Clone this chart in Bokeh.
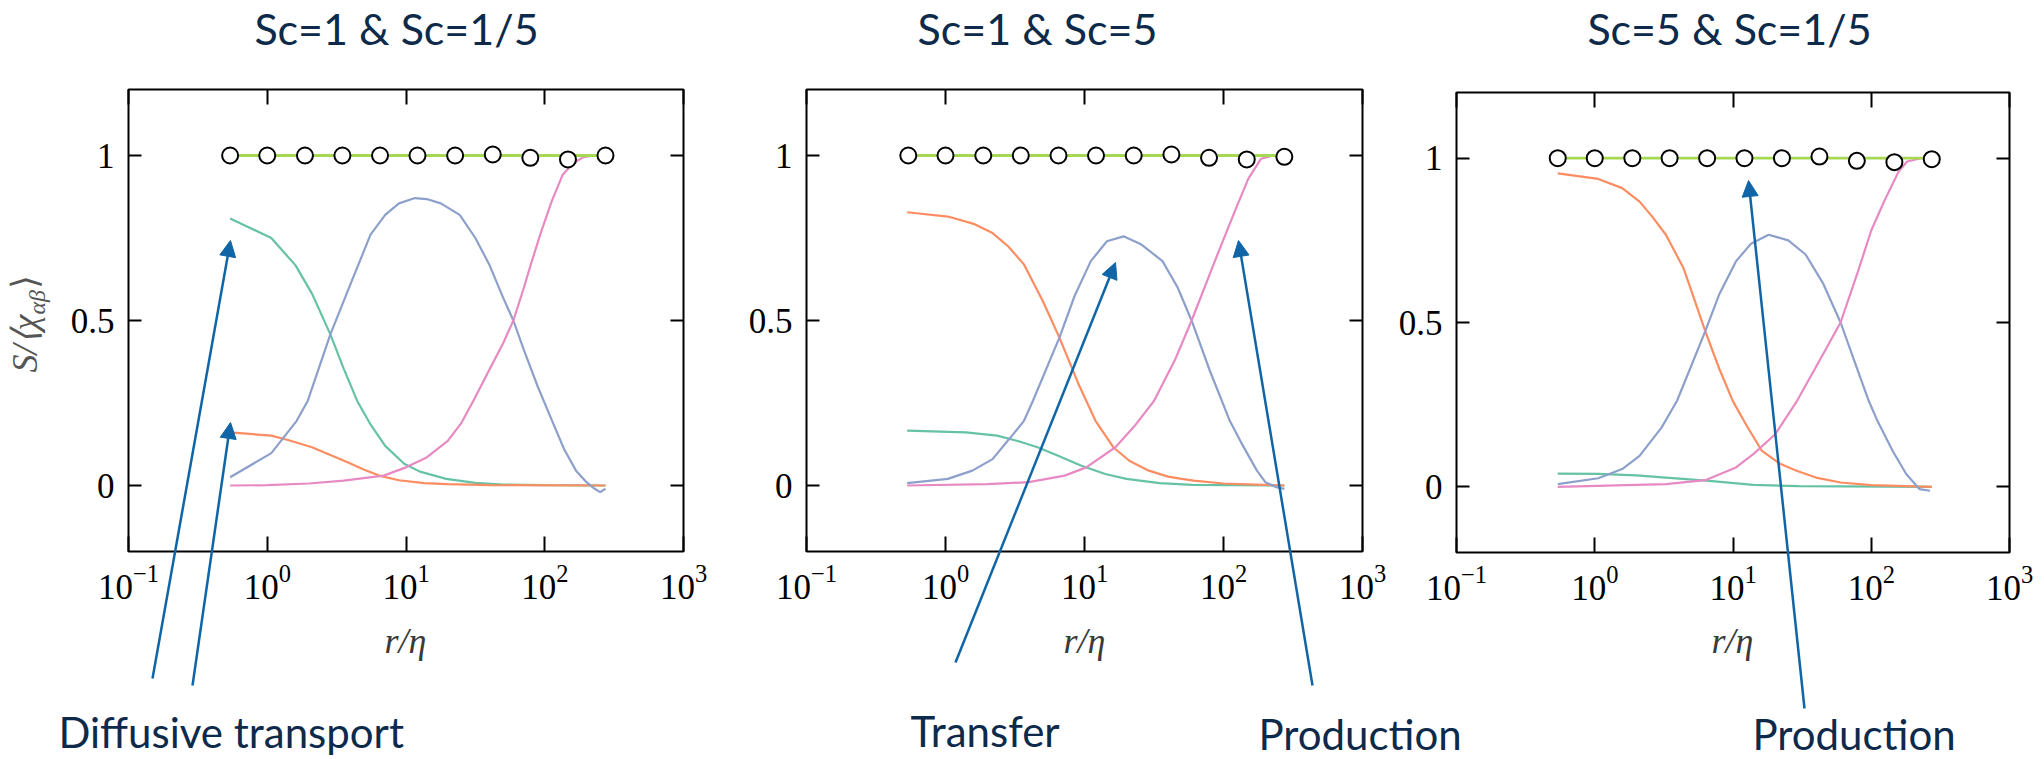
import math
from bokeh.plotting import figure
from bokeh.models import (FixedTicker, LogAxis, LinearAxis, Label, Arrow, NormalHead,
                          CustomJSTickFormatter, NumeralTickFormatter, Range1d)
from bokeh.layouts import row
from bokeh.embed import file_html
from bokeh.resources import INLINE

# ---------------- data ----------------
titles = ["Sc=1 & Sc=1/5", "Sc=1 & Sc=5", "Sc=5 & Sc=1/5"]
x_ticks = [0.1, 1, 10, 100, 1000]
y_ticks = [0, 0.5, 1]

r_markers = [0.54, 1.0, 1.87, 3.48, 6.5, 12.1, 22.6, 42.2, 78.7, 147, 274]
sum_p1 = [1.0, 1.0, 1.0, 1.0, 1.0, 1.0, 1.0, 1.003, 0.993, 0.988, 1.0]
sum_p2 = [1.0, 1.0, 1.0, 1.0, 1.0, 1.0, 1.0, 1.003, 0.993, 0.988, 0.996]
sum_p3 = [1.0, 1.0, 1.0, 1.0, 1.0, 1.0, 1.0, 1.005, 0.992, 0.988, 0.997]
lime_y = [1.0, 1.0, 1.0, 1.0, 1.0, 1.0, 1.0, 1.0, 1.0, 1.0, 1.0]

# panel 1 : Sc=1 & Sc=1/5
p1_green_x = [0.54, 1.07, 1.6, 2.11, 2.85, 3.55, 4.44, 5.55, 7.08, 9.7, 12.6, 19.5, 31.6, 50, 100, 274]
p1_green_y = [0.809, 0.75, 0.667, 0.58, 0.458, 0.355, 0.257, 0.185, 0.12, 0.066, 0.042, 0.02, 0.008, 0.003, 0.001, 0.0]
p1_orange_x = [0.54, 1.07, 1.41, 2.1, 2.82, 3.83, 5.0, 6.4, 8.9, 13.5, 20, 40, 274]
p1_orange_y = [0.161, 0.151, 0.138, 0.116, 0.093, 0.07, 0.048, 0.03, 0.016, 0.007, 0.004, 0.001, 0.0]
p1_blue_x = [0.54, 1.07, 1.63, 1.96, 2.85, 3.98, 5.55, 7.08, 8.9, 11.6, 14.1, 17.8, 24.4, 31.6, 39.8,
             50, 59.4, 70.8, 89, 113, 138, 168, 200, 229, 251, 274]
p1_blue_y = [0.025, 0.098, 0.196, 0.257, 0.458, 0.61, 0.76, 0.82, 0.855, 0.871, 0.868, 0.855, 0.82, 0.75, 0.67,
             0.57, 0.5, 0.41, 0.3, 0.196, 0.11, 0.045, 0.01, -0.01, -0.02, -0.01]
p1_pink_x = [0.54, 1.0, 2.0, 3.55, 6.9, 10, 14.1, 20, 25.1, 30.6, 39.8, 50, 59.4, 70.8, 79.4, 92.7, 112, 134,
             158, 190, 226, 274]
p1_pink_y = [0.0, 0.001, 0.006, 0.015, 0.03, 0.055, 0.085, 0.135, 0.19, 0.257, 0.35, 0.43, 0.5, 0.6, 0.67, 0.76,
             0.86, 0.94, 0.975, 0.995, 1.0, 1.0]

# panel 2 : Sc=1 & Sc=5
p2_green_x = [0.53, 1.4, 2.35, 3.31, 4.6, 6.46, 9.5, 14.1, 20, 34.7, 60, 274]
p2_green_y = [0.166, 0.161, 0.151, 0.135, 0.116, 0.09, 0.06, 0.035, 0.02, 0.007, 0.002, 0.0]
p2_orange_x = [0.53, 1.04, 1.62, 2.18, 2.82, 3.67, 5.0, 6.6, 9.0, 12, 16.1, 21, 29, 40, 50, 61, 100, 274]
p2_orange_y = [0.828, 0.815, 0.792, 0.765, 0.725, 0.67, 0.56, 0.448, 0.31, 0.196, 0.116, 0.075, 0.045, 0.027,
               0.02, 0.015, 0.006, 0.0]
p2_blue_x = [0.53, 1.04, 1.56, 2.18, 2.94, 3.67, 4.25, 6.6, 8.5, 11.1, 14.5, 19.1, 25.7, 36.4, 46.8, 59.3, 79.4,
             111, 134, 174, 200, 240, 274]
p2_blue_y = [0.007, 0.02, 0.045, 0.08, 0.146, 0.196, 0.256, 0.448, 0.575, 0.68, 0.74, 0.755, 0.73, 0.68, 0.6,
             0.497, 0.35, 0.196, 0.13, 0.045, 0.01, -0.005, -0.01]
p2_pink_x = [0.53, 2.0, 3.98, 7.2, 10.3, 16.7, 22.9, 31.6, 44.7, 59, 88.5, 123, 151, 186, 229, 274]
p2_pink_y = [0.0, 0.004, 0.01, 0.03, 0.055, 0.116, 0.18, 0.256, 0.38, 0.5, 0.69, 0.84, 0.93, 0.99, 1.0, 1.0]

# panel 3 : Sc=5 & Sc=1/5
p3_green_x = [0.54, 1.06, 2.0, 3.27, 6.75, 14, 30, 274]
p3_green_y = [0.04, 0.039, 0.035, 0.028, 0.018, 0.006, 0.002, 0.0]
p3_orange_x = [0.54, 1.06, 1.58, 2.11, 2.63, 3.27, 4.38, 6.3, 7.94, 10, 12.6, 16.2, 21.9, 28.8, 39.8, 60, 100, 274]
p3_orange_y = [0.954, 0.937, 0.909, 0.868, 0.82, 0.767, 0.666, 0.474, 0.36, 0.26, 0.185, 0.109, 0.07, 0.049,
               0.028, 0.013, 0.005, 0.0]
p3_blue_x = [0.54, 1.06, 1.58, 2.11, 3.04, 3.93, 5.01, 6.3, 7.94, 10.5, 13.5, 18.1, 25.1, 33.5, 44.7, 60, 75.9,
             96, 111, 143, 179, 223, 266]
p3_blue_y = [0.008, 0.026, 0.054, 0.094, 0.18, 0.261, 0.37, 0.474, 0.585, 0.686, 0.74, 0.767, 0.75, 0.707, 0.62,
             0.5, 0.38, 0.261, 0.2, 0.109, 0.039, -0.007, -0.012]
p3_pink_x = [0.54, 3.27, 6.3, 10.5, 14.1, 20.2, 29, 41.7, 60, 79.4, 100, 124, 158, 182, 229, 274]
p3_pink_y = [0.0, 0.008, 0.02, 0.059, 0.1, 0.16, 0.261, 0.38, 0.5, 0.65, 0.78, 0.869, 0.96, 0.99, 1.0, 1.0]

# ---------------- style ----------------
GREEN, ORANGE, BLUE, PINK, LIME = "#66c2a5", "#fc8d62", "#8da0cb", "#e78ac3", "#a6d854"
NAVY = "#0e2a4a"
ARROW = "#0f65a6"
W, H = 2044, 759          # the page has no margin: canvas pixels == page pixels
SERIF = "Liberation Serif"
SANS = "Lato"

panels = [
    dict(fl=128, fr=683, ft=89, fb=551,
         curves=[(p1_green_x, p1_green_y, GREEN), (p1_orange_x, p1_orange_y, ORANGE),
                 (p1_blue_x, p1_blue_y, BLUE), (p1_pink_x, p1_pink_y, PINK)],
         sums=sum_p1),
    dict(fl=806, fr=1362, ft=89, fb=551,
         curves=[(p2_green_x, p2_green_y, GREEN), (p2_orange_x, p2_orange_y, ORANGE),
                 (p2_blue_x, p2_blue_y, BLUE), (p2_pink_x, p2_pink_y, PINK)],
         sums=sum_p2),
    dict(fl=1456, fr=2009, ft=92, fb=552,
         curves=[(p3_green_x, p3_green_y, GREEN), (p3_orange_x, p3_orange_y, ORANGE),
                 (p3_blue_x, p3_blue_y, BLUE), (p3_pink_x, p3_pink_y, PINK)],
         sums=sum_p3),
]

# annotation layout in page pixels (x right, y down); text y values are text centres
title_pos = [(396, 28), (1037, 28), (1729, 28)]
xlabel_pos = [(405, 640), (1084, 640), (1732, 640)]
arrows = [((152, 678), (230, 240)), ((192, 685), (230, 422)),
          ((955, 662), (1115, 262)), ((1312, 685), (1238, 240)),
          ((1804, 708), (1748, 180))]
notes = [("Diffusive transport", 58, 731), ("Transfer", 910, 730),
         ("Production", 1258, 733), ("Production", 1752, 733)]


def style_axis(ax, tick_len):
    ax.axis_line_color = None
    ax.major_tick_in = tick_len
    ax.major_tick_out = 0
    ax.minor_tick_in = 0
    ax.minor_tick_out = 0
    ax.major_tick_line_color = "black"
    ax.major_tick_line_width = 2
    ax.major_label_text_font = SERIF
    ax.major_label_text_font_size = "35px"
    ax.major_label_text_color = "black"


figs = []
for i, cfg in enumerate(panels):
    fl, fr, ft, fb = cfg["fl"], cfg["fr"], cfg["ft"], cfg["fb"]
    p = figure(width=W, height=H, x_axis_type="log", title=None,
               x_range=Range1d(0.1, 1000), y_range=Range1d(-0.2, 1.2),
               output_backend="svg", toolbar_location=None,
               min_border_left=fl, min_border_right=W - fr,
               min_border_top=ft, min_border_bottom=H - fb)
    p.frame_align = False
    p.xgrid.visible = False
    p.ygrid.visible = False
    p.outline_line_color = "black"
    p.outline_line_width = 2
    if i == 0:
        p.background_fill_color = "white"
        p.border_fill_color = "white"
    else:
        p.background_fill_alpha = 0
        p.border_fill_alpha = 0
        p.margin = (0, 0, 0, -W)

    p.xaxis.ticker = FixedTicker(ticks=x_ticks)
    style_axis(p.xaxis[0], 15)
    p.xaxis.major_label_standoff = 13
    p.yaxis.ticker = FixedTicker(ticks=y_ticks)
    p.yaxis.formatter = NumeralTickFormatter(format="0.[0]")
    style_axis(p.yaxis[0], 13)
    p.yaxis.major_label_standoff = 14

    top = LogAxis(ticker=FixedTicker(ticks=x_ticks), formatter=CustomJSTickFormatter(code="return ''"))
    style_axis(top, 15)
    p.add_layout(top, "above")
    right = LinearAxis(ticker=FixedTicker(ticks=y_ticks), formatter=CustomJSTickFormatter(code="return ''"))
    style_axis(right, 13)
    p.add_layout(right, "right")

    for xs, ys, c in cfg["curves"]:
        p.line(xs, ys, line_color=c, line_width=2.2)
    p.line(r_markers, lime_y, line_color=LIME, line_width=2.8)
    p.scatter(r_markers, cfg["sums"], marker="circle", size=16,
              fill_color="white", line_color="black", line_width=2)
    figs.append(p)

# transparent overlay whose frame is the whole page, for titles, labels and arrows
ann = figure(width=W, height=H, x_range=Range1d(0, W), y_range=Range1d(H, 0),
             output_backend="svg", toolbar_location=None, title=None,
             x_axis_location=None, y_axis_location=None,
             min_border_left=0, min_border_right=0, min_border_top=0, min_border_bottom=0)
ann.frame_align = False
ann.xgrid.visible = False
ann.ygrid.visible = False
ann.outline_line_color = None
ann.background_fill_alpha = 0
ann.border_fill_alpha = 0
ann.margin = (0, 0, 0, -W)

for t, (tx, ty) in zip(titles, title_pos):
    ann.add_layout(Label(x=tx, y=ty, text=t, text_align="center", text_baseline="middle",
                         text_font=SANS, text_font_size="43px", text_color=NAVY))
for lx, ly in xlabel_pos:
    ann.add_layout(Label(x=lx, y=ly, text="r/η", text_align="center", text_baseline="middle",
                         text_font=SERIF, text_font_style="italic", text_font_size="36px",
                         text_color="#3a3a3a"))
ang = math.pi / 2
ann.add_layout(Label(x=24, y=372, text="S/⟨χ", angle=ang, text_align="left",
                     text_baseline="middle", text_font=SERIF, text_font_style="italic",
                     text_font_size="36px", text_color="#555555"))
ann.add_layout(Label(x=36, y=314, text="αβ", angle=ang, text_align="left",
                     text_baseline="middle", text_font=SERIF, text_font_style="italic",
                     text_font_size="24px", text_color="#555555"))
ann.add_layout(Label(x=24, y=288, text="⟩", angle=ang, text_align="left",
                     text_baseline="middle", text_font=SERIF,
                     text_font_size="36px", text_color="#555555"))
for (sx, sy), (ex, ey) in arrows:
    ann.add_layout(Arrow(end=NormalHead(size=16, fill_color=ARROW, line_color=ARROW, line_width=1),
                         x_start=sx, y_start=sy, x_end=ex, y_end=ey,
                         line_color=ARROW, line_width=2.5))
for txt, nx, ny in notes:
    ann.add_layout(Label(x=nx, y=ny, text=txt, text_align="left", text_baseline="middle",
                         text_font=SANS, text_font_size="42px", text_color=NAVY))
figs.append(ann)

layout = row(*figs)
open("out.html", "w").write(file_html(layout, INLINE))
